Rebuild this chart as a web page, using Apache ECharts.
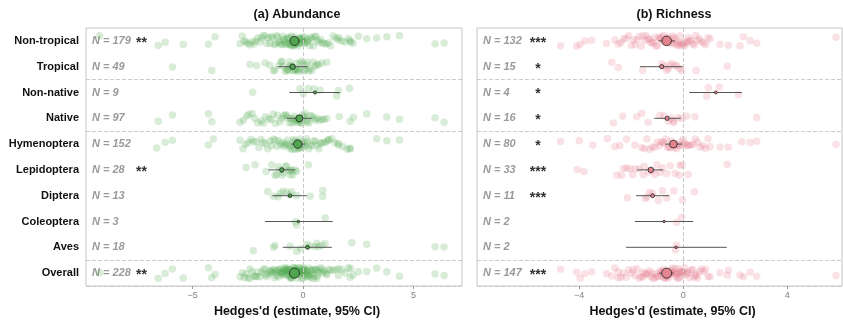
<!DOCTYPE html>
<html>
<head>
<meta charset="utf-8">
<script src="https://cdn.jsdelivr.net/npm/echarts@6/dist/echarts.min.js"></script>
<style>html,body{margin:0;padding:0;background:#fff}#c{width:843px;height:320px}</style>
</head>
<body>
<div id="c"></div>
<script>
// ---------- categories ----------
const categories = ['Non-tropical','Tropical','Non-native','Native','Hymenoptera','Lepidoptera','Diptera','Coleoptera','Aves','Overall'];

// ---------- (a) Abundance : sample sizes, significance, estimates ----------
const abN     = [179, 49, 9, 97, 152, 28, 13, 3, 18, 228];
const abStars = ['**', '', '', '', '', '**', '', '', '', '**'];
const abMean  = [-0.39, -0.47, 0.54, -0.17, -0.24, -0.96, -0.59, -0.21, 0.20, -0.39];
const abLow   = [-0.62, -1.15, -0.62, -0.74, -0.55, -1.57, -1.39, -1.72, -0.92, -0.60];
const abHigh  = [-0.15, 0.21, 1.67, 0.39, 0.08, -0.36, 0.17, 1.34, 1.30, -0.17];

// individual effect sizes (Hedges' d) per group
const abNonTropical = [-9.2,-6.55,-6.24,-5.42,-4.28,-3.98,
  -2.85,-2.75,-2.66,-2.58,-2.5,-2.4,-2.3,-2.22,-2.15,-2.05,-1.95,-1.88,-1.8,-1.72,-1.65,-1.58,-1.5,-1.44,-1.38,-1.3,-1.25,-1.2,-1.15,-1.1,-1.05,-1.0,-0.96,-0.92,-0.88,-0.84,-0.8,-0.77,-0.74,-0.7,-0.67,-0.64,-0.61,-0.58,-0.55,-0.52,-0.5,-0.47,-0.44,-0.42,-0.4,-0.38,-0.36,-0.33,-0.3,-0.28,-0.25,-0.22,-0.2,-0.17,-0.14,-0.12,-0.1,-0.07,-0.04,-0.02,0.01,0.04,0.08,0.12,0.16,0.2,0.25,0.3,0.35,0.4,0.46,0.52,0.58,0.65,0.72,0.8,0.88,0.96,1.05,1.15,1.25,1.36,1.48,1.6,1.62,1.75,1.9,2.05,2.13,2.15,2.26,
  2.5,2.88,3.33,3.79,4.36,5.97,6.38];
const abTropical = [-5.91,-4.13,-2.4,-2.1,-1.72,-1.5,-1.34,-1.27,-1.1,-1.0,-0.95,-0.89,-0.8,-0.74,-0.7,-0.66,-0.6,-0.6,-0.55,-0.51,-0.45,-0.4,-0.35,-0.3,-0.29,-0.25,-0.2,-0.14,-0.1,-0.05,0.01,0.05,0.09,0.15,0.2,0.25,0.32,0.4,0.47,0.55,0.62,0.7,0.85,1.07];
const abNonNative = [-2.28,-0.14,0.01,0.24,0.5,0.77,1.52,1.6,2.1];
const abNative = [-6.55,-5.91,-4.28,-4.13,
  -2.85,-2.7,-2.55,-2.45,-2.3,-2.2,-2.05,-1.9,-1.8,-1.7,-1.55,-1.45,-1.35,-1.25,-1.15,-1.05,-0.95,-0.88,-0.8,-0.74,-0.68,-0.62,-0.56,-0.5,-0.45,-0.4,-0.35,-0.3,-0.26,-0.22,-0.18,-0.14,-0.1,-0.06,-0.02,0.02,0.06,0.1,0.15,0.2,0.26,0.32,0.4,0.48,0.56,0.65,0.75,0.85,0.95,1.07,
  1.64,2.13,2.28,2.88,3.79,4.36,5.97,6.38];
const abHymenoptera = [-6.62,-6.24,-5.91,-4.28,-4.06,
  -2.85,-2.72,-2.6,-2.48,-2.36,-2.25,-2.12,-2.0,-1.9,-1.8,-1.7,-1.6,-1.5,-1.42,-1.34,-1.26,-1.18,-1.1,-1.02,-0.95,-0.88,-0.82,-0.76,-0.7,-0.65,-0.6,-0.55,-0.5,-0.46,-0.42,-0.38,-0.34,-0.3,-0.27,-0.24,-0.2,-0.17,-0.14,-0.1,-0.06,-0.02,0.02,0.06,0.1,0.15,0.2,0.26,0.32,0.4,0.48,0.56,0.64,0.72,0.77,0.85,0.95,1.05,1.15,1.15,1.3,1.45,1.6,1.6,1.8,2.0,2.13,2.13,
  3.33,3.79,4.36];
const abLepidoptera = [-2.58,-2.17,-1.67,-1.42,-1.27,-1.2,-1.12,-1.04,-0.95,-0.89,-0.8,-0.74,-0.65,-0.59,-0.59,-0.5,-0.47,-0.36,-0.29,0.24];
const abDiptera = [-1.6,-1.34,-1.12,-1.04,-0.9,-0.74,-0.59,-0.51,-0.29,0.32,0.89,0.89];
const abColeoptera = [-0.35,-0.29,1.0];
const abAves = [-2.25,-1.34,-1.27,-0.59,-0.29,-0.1,0.17,0.3,0.54,0.62,0.7,0.85,1.0,2.2,2.88,5.97,6.38];

// ---------- (b) Richness ----------
const riN     = [132, 15, 4, 16, 80, 33, 11, 2, 2, 147];
const riStars = ['***', '*', '*', '*', '*', '***', '***', '', '', '***'];
const riMean  = [-0.64, -0.83, 1.25, -0.62, -0.38, -1.25, -1.18, -0.74, -0.28, -0.64];
const riLow   = [-0.95, -1.67, 0.23, -1.12, -0.70, -1.77, -1.82, -1.86, -2.20, -0.92];
const riHigh  = [-0.32, -0.03, 2.25, -0.10, -0.05, -0.77, -0.54, 0.38, 1.67, -0.37];

const riNonTropical = [-4.72,-4.1,-3.97,-3.78,-3.52,-2.95,
  -2.63,-2.5,-2.4,-2.3,-2.2,-2.1,-2.0,-1.92,-1.85,-1.78,-1.7,-1.62,-1.55,-1.48,-1.42,-1.36,-1.3,-1.25,-1.2,-1.15,-1.1,-1.05,-1.0,-0.95,-0.9,-0.86,-0.82,-0.78,-0.74,-0.7,-0.66,-0.62,-0.58,-0.54,-0.5,-0.46,-0.42,-0.38,-0.34,-0.3,-0.26,-0.22,-0.18,-0.14,-0.1,-0.06,-0.02,0.02,0.06,0.1,0.15,0.2,0.25,0.3,0.36,0.42,0.48,0.55,0.62,0.7,0.78,0.86,0.95,1.03,
  1.41,1.73,2.18,2.31,2.57,2.82,5.87];
const riTropical = [-2.75,-2.5,-1.56,-0.83,-0.75,-0.64,-0.58,-0.54,-0.45,-0.32,-0.26,-0.15,-0.06,0.49,1.69];
const riNonNative = [0.9,0.96,1.38,2.12];
const riNative = [-2.69,-2.33,-1.79,-1.6,-1.35,-0.9,-0.75,-0.58,-0.47,-0.4,-0.36,-0.2,-0.05,0.13,0.45,2.82];
const riHymenoptera = [-4.72,-4.0,-3.48,-2.92,-2.63,-2.44,-2.18,-1.86,
  -1.6,-1.5,-1.4,-1.3,-1.2,-1.1,-1.0,-0.92,-0.85,-0.78,-0.72,-0.66,-0.6,-0.55,-0.5,-0.45,-0.4,-0.35,-0.3,-0.25,-0.2,-0.15,-0.1,-0.05,0.0,0.05,0.1,0.16,0.22,0.3,0.38,0.46,0.55,0.65,0.75,0.85,0.95,1.03,
  1.41,1.73,2.25,2.57,2.82,5.87];
const riLepidoptera = [-4.08,-3.82,-2.56,-2.37,-2.3,-2.18,-2.05,-1.95,-1.86,-1.7,-1.54,-1.5,-1.35,-1.2,-1.1,-1.02,-0.9,-0.8,-0.64,-0.5,-0.32,-0.15,-0.13,-0.05,0.19,1.69];
const riDiptera = [-2.15,-1.47,-1.4,-1.3,-1.18,-0.96,-0.8,-0.64,-0.36,-0.03,0.43];
const riColeoptera = [-0.26,-0.06];
const riAves = [-0.3,-0.26];

// tick labels
const abTicks = [-5, 0, 5];
const riTicks = [-4, 0, 4];

// ---------- build series data ----------
const abGroups = [abNonTropical, abTropical, abNonNative, abNative, abHymenoptera, abLepidoptera, abDiptera, abColeoptera, abAves, abNonTropical.concat(abTropical)];
const riGroups = [riNonTropical, riTropical, riNonNative, riNative, riHymenoptera, riLepidoptera, riDiptera, riColeoptera, riAves, riNonTropical.concat(riTropical)];

function toPoints(groups) {
  const out = [];
  groups.forEach((arr, i) => arr.forEach(v => out.push([v, i])));
  return out;
}
function toSummary(mean, lo, hi, n) {
  return mean.map((m, i) => [m, lo[i], hi[i], i, n[i]]);
}
const minus = v => (v < 0 ? '\u2212' + Math.abs(v) : String(v));
const FONT = 'Liberation Sans, Arial, Helvetica, sans-serif';

function summaryRenderer(fill, nMax) {
  return function (params, api) {
    const i = api.value(3);
    const a = api.coord([api.value(1), i]);
    const b = api.coord([api.value(2), i]);
    const m = api.coord([api.value(0), i]);
    const d = 1.5 + 8.5 * Math.sqrt(api.value(4) / nMax);
    return {
      type: 'group',
      children: [
        { type: 'line', shape: { x1: a[0], y1: a[1], x2: b[0], y2: b[1] }, style: { stroke: '#555', lineWidth: 1 } },
        { type: 'circle', shape: { cx: m[0], cy: m[1], r: d / 2 }, style: { fill: fill, stroke: '#222', lineWidth: 0.8 } }
      ]
    };
  };
}

function xAxisFor(gridIndex, min, max, ticks, padLeft) {
  return {
    type: 'value', gridIndex, min, max,
    splitLine: { show: false },
    axisLine: { show: false },
    axisTick: { show: true, customValues: ticks, length: 3, lineStyle: { color: '#999' } },
    axisLabel: { customValues: ticks, formatter: minus, color: '#808080', fontSize: 9, margin: 5, fontFamily: FONT },
    name: "Hedges'd (estimate, 95% CI)",
    nameLocation: 'middle',
    nameGap: 16,
    nameTextStyle: { fontWeight: 'bold', fontSize: 12.5, color: '#111', fontFamily: FONT, padding: [0, 0, 0, padLeft] }
  };
}
function catAxisMain(gridIndex, showLabels) {
  return {
    type: 'category', gridIndex, data: categories, inverse: true, position: 'left',
    axisLine: { show: false }, axisTick: { show: false },
    axisLabel: { show: showLabels, interval: 0, margin: 7, fontWeight: 'bold', fontSize: 11, color: '#111', fontFamily: FONT },
    splitLine: { show: true, interval: (idx) => idx === 2 || idx === 4 || idx === 9, lineStyle: { type: 'dashed', color: '#cccccc', width: 1 } }
  };
}
function catAxisPoints(gridIndex, nArr, starsArr, nWidth, starAlign) {
  return {
    type: 'category', gridIndex, data: categories, inverse: true, position: 'left',
    jitter: 11, jitterOverlap: true,
    axisLine: { show: false }, axisTick: { show: false }, splitLine: { show: false },
    axisLabel: {
      inside: true, interval: 0, margin: 6, align: 'left',
      formatter: (v, idx) => '{n|N = ' + nArr[idx] + '}{s|' + (starsArr[idx] || ' ') + '}',
      rich: {
        n: { width: nWidth, fontStyle: 'italic', fontWeight: 'bold', fontSize: 11, color: '#9a9a9a', fontFamily: FONT },
        s: { width: 20, align: starAlign, fontSize: 14, fontWeight: 'bold', color: '#333', fontFamily: FONT, padding: [4, 0, 0, 0] }
      }
    }
  };
}
const zeroLine = {
  silent: true, symbol: 'none', label: { show: false },
  lineStyle: { color: '#c8c8c8', type: 'dashed', width: 1 },
  data: [{ xAxis: 0 }]
};

const option = {
  animation: false,
  backgroundColor: '#fff',
  textStyle: { fontFamily: FONT },
  graphic: [
    { type: 'text', x: 297, y: 15, style: { text: '(a) Abundance', textAlign: 'center', textVerticalAlign: 'middle', font: 'bold 12.5px ' + FONT, fill: '#111' } },
    { type: 'text', x: 674, y: 15, style: { text: '(b) Richness', textAlign: 'center', textVerticalAlign: 'middle', font: 'bold 12.5px ' + FONT, fill: '#111' } }
  ],
  grid: [
    { left: 86, right: 381, top: 28, bottom: 34, show: true, borderColor: '#c4c4c4', borderWidth: 1, outerBoundsMode: 'none' },
    { left: 477, right: 1, top: 28, bottom: 34, show: true, borderColor: '#c4c4c4', borderWidth: 1, outerBoundsMode: 'none' }
  ],
  xAxis: [
    xAxisFor(0, -9.82, 7.19, abTicks, 46),
    xAxisFor(1, -7.93, 6.1, riTicks, 26)
  ],
  yAxis: [
    catAxisMain(0, true),
    catAxisPoints(0, abN, abStars, 44, 'left'),
    catAxisMain(1, false),
    catAxisPoints(1, riN, riStars, 45, 'center')
  ],
  series: [
    {
      type: 'scatter', xAxisIndex: 0, yAxisIndex: 1, data: toPoints(abGroups),
      symbolSize: 7.5, itemStyle: { color: 'rgba(80,170,80,0.28)' }, z: 2, markLine: zeroLine
    },
    {
      type: 'custom', xAxisIndex: 0, yAxisIndex: 0, data: toSummary(abMean, abLow, abHigh, abN),
      encode: { x: [0, 1, 2], y: 3 }, renderItem: summaryRenderer('#4fa64f', 228), z: 5
    },
    {
      type: 'scatter', xAxisIndex: 1, yAxisIndex: 3, data: toPoints(riGroups),
      symbolSize: 7.5, itemStyle: { color: 'rgba(228,120,140,0.28)' }, z: 2, markLine: zeroLine
    },
    {
      type: 'custom', xAxisIndex: 1, yAxisIndex: 2, data: toSummary(riMean, riLow, riHigh, riN),
      encode: { x: [0, 1, 2], y: 3 }, renderItem: summaryRenderer('#e3848f', 147), z: 5
    }
  ]
};
const chart = echarts.init(document.getElementById('c'), null, { renderer: 'canvas' });
chart.setOption(option);
</script>
</body>
</html>
